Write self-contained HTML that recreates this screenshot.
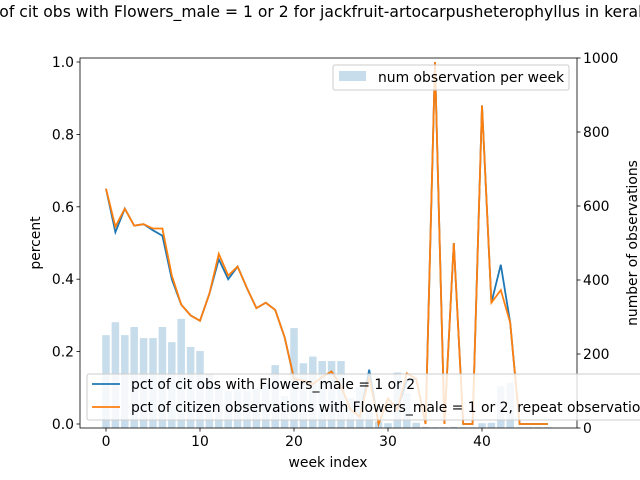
<!DOCTYPE html>
<html><head><meta charset="utf-8"><style>
body{margin:0;background:#fff;}
svg{display:block;font-family:"DejaVu Sans","Liberation Sans",sans-serif;}
</style></head><body>
<svg id="chart" width="640" height="480"></svg>
<script>
const weeks=[];for(let i=0;i<48;i++)weeks.push(i);
const counts=[251,286,251,273,243,243,273,232,295,219,208,146,108,100,105,100,108,120,170,86,270,175,193,181,181,181,81,111,43,17,13,150,95,14,3,2,2,3,2,2,13,14,113,122,2,2,2,2];
const pctA=[0.65,0.53,0.595,0.548,0.552,0.535,0.52,0.40,0.33,0.30,0.285,0.36,0.455,0.40,0.435,0.375,0.32,0.335,0.315,0.24,0.125,0.12,0.11,0.13,0.145,0.105,0.04,0.02,0.15,0.0,0.07,0.04,0.12,0.125,0.0,1.0,0.0,0.50,0.0,0.0,0.88,0.335,0.44,0.28,0.0,0.0,0.0,0.0];
const pctB=[0.65,0.545,0.595,0.548,0.552,0.54,0.54,0.41,0.33,0.30,0.285,0.36,0.47,0.41,0.435,0.375,0.32,0.335,0.315,0.24,0.125,0.12,0.11,0.13,0.145,0.105,0.04,0.02,0.13,0.0,0.07,0.04,0.14,0.125,0.0,1.0,0.0,0.50,0.0,0.0,0.88,0.335,0.37,0.28,0.0,0.0,0.0,0.0];
const xTicks=[0,10,20,30,40];
const yTicks=[0.0,0.2,0.4,0.6,0.8,1.0];
const y2Ticks=[0,200,400,600,800,1000];
const NS="http://www.w3.org/2000/svg";
const svg=document.getElementById('chart');
const L=80,R=577,T=58,B=428;
const xs=w=>106+w*9.4;
const ys=v=>424-v*362;
const y2=v=>428-v*0.37;
function mk(t,a,p){const e=document.createElementNS(NS,t);for(const k in a)e.setAttribute(k,a[k]);(p||svg).appendChild(e);return e;}
weeks.forEach((w,i)=>{
 const h=counts[i]*0.37;
 const r=mk('rect',{x:xs(w)-3.75,y:y2(counts[i]),width:7.5,height:h,fill:'#1f77b4','fill-opacity':0.25});
 
 
});
function line(arr,col,name){
 const p=mk('polyline',{points:arr.map((v,i)=>xs(weeks[i])+','+ys(v)).join(' '),fill:'none',stroke:col,'stroke-width':1.8});
 
 
}
line(pctA,'#1f77b4','series-pct-cit-obs');
line(pctB,'#ff7f0e','series-pct-citizen-repeat');
const fr=mk('rect',{x:L,y:T,width:R-L,height:B-T,fill:'none',stroke:'#000','stroke-width':0.8});


xTicks.forEach(t=>{
 mk('line',{x1:xs(t),x2:xs(t),y1:B,y2:B+3.5,stroke:'#000','stroke-width':0.8});
 const tx=mk('text',{x:xs(t),y:B+18,'font-size':13.9,'text-anchor':'middle'});tx.textContent=t;
 
 
});
yTicks.forEach(t=>{
 mk('line',{x1:L-3.5,x2:L,y1:ys(t),y2:ys(t),stroke:'#000','stroke-width':0.8});
 const tx=mk('text',{x:L-6,y:ys(t)+5,'font-size':13.9,'text-anchor':'end'});tx.textContent=t.toFixed(1);
 
 
});
y2Ticks.forEach(t=>{
 mk('line',{x1:R,x2:R+3.5,y1:y2(t),y2:y2(t),stroke:'#000','stroke-width':0.8});
 const tx=mk('text',{x:R+6,y:y2(t)+5,'font-size':13.9,'text-anchor':'start'});tx.textContent=t;
 
 
});
</script>
<svg width="640" height="480" style="position:absolute;left:0;top:0" font-family="DejaVu Sans, Liberation Sans, sans-serif">
<text x="652" y="17" font-size="15.6" text-anchor="end">pct of cit obs with Flowers_male = 1 or 2 for jackfruit-artocarpusheterophyllus in kerala</text>
<text x="328" y="467" font-size="13.9" text-anchor="middle">week index</text>
<text transform="translate(40,243) rotate(-90)" font-size="13.9" text-anchor="middle">percent</text>
<text transform="translate(637,243) rotate(-90)" font-size="13.9" text-anchor="middle">number of observations</text>
<g>
<rect x="333" y="65" width="236" height="25" rx="2" fill="#fff" fill-opacity="0.8" stroke="#ccc"/>
<rect x="339" y="71" width="27" height="10" fill="#1f77b4" fill-opacity="0.25"/>
<text x="378" y="82" font-size="13.9">num observation per week</text>
</g>
<g>
<rect x="87" y="374" width="570" height="46" rx="2" fill="#fff" fill-opacity="0.8" stroke="#ccc"/>
<line x1="92" x2="120" y1="384" y2="384" stroke="#1f77b4" stroke-width="1.8"/>
<text x="131" y="389" font-size="13.9">pct of cit obs with Flowers_male = 1 or 2</text>
<line x1="92" x2="120" y1="407" y2="407" stroke="#ff7f0e" stroke-width="1.8"/>
<text x="131" y="412" font-size="13.9">pct of citizen observations with Flowers_male = 1 or 2, repeat observations</text>
</g>
</svg>
</body></html>
